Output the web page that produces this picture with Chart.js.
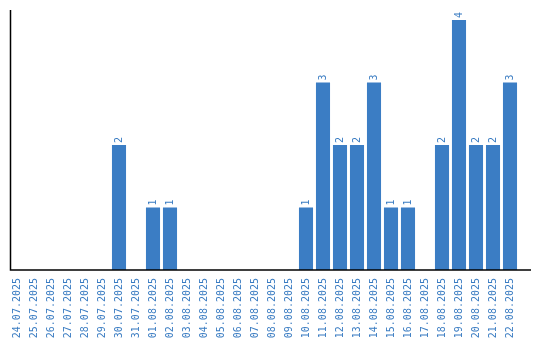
<!DOCTYPE html>
<html>
<head>
<meta charset="utf-8">
<script src="https://cdn.jsdelivr.net/npm/chart.js@4"></script>
<style>
  html, body { margin: 0; padding: 0; background: #fff; }
  #wrap { width: 540px; height: 340px; }
</style>
</head>
<body>
<div id="wrap"><canvas id="chart"></canvas></div>
<script>
// Daily counts, 24.07.2025 - 22.08.2025
const days = [
  '24.07.2025', '25.07.2025', '26.07.2025', '27.07.2025', '28.07.2025', '29.07.2025',
  '30.07.2025', '31.07.2025', '01.08.2025', '02.08.2025', '03.08.2025', '04.08.2025',
  '05.08.2025', '06.08.2025', '07.08.2025', '08.08.2025', '09.08.2025', '10.08.2025',
  '11.08.2025', '12.08.2025', '13.08.2025', '14.08.2025', '15.08.2025', '16.08.2025',
  '17.08.2025', '18.08.2025', '19.08.2025', '20.08.2025', '21.08.2025', '22.08.2025'
];
const counts = [
  0, 0, 0, 0, 0, 0,
  2, 0, 1, 1, 0, 0,
  0, 0, 0, 0, 0, 1,
  3, 2, 2, 3, 1, 1,
  0, 2, 4, 2, 2, 3
];

const blue = '#3b7dc4';
const textBlue = '#3a7cc2';
const monoFont = { family: 'DejaVu Sans Mono', size: 10 };

// axis lines (x axis runs a bit past the last bar like the original)
const axisLines = {
  id: 'axisLines',
  afterDatasetsDraw(chart) {
    const { ctx, chartArea } = chart;
    const x0 = chartArea.left + 2;
    ctx.save();
    ctx.strokeStyle = '#000';
    ctx.lineWidth = 1.5;
    ctx.beginPath();
    ctx.moveTo(x0, chartArea.top);
    ctx.lineTo(x0, chartArea.bottom);
    ctx.lineTo(chartArea.right + 12.5, chartArea.bottom);
    ctx.stroke();
    ctx.restore();
  }
};

// rotated value labels above the bars
const valueLabels = {
  id: 'valueLabels',
  afterDatasetsDraw(chart) {
    const { ctx } = chart;
    const meta = chart.getDatasetMeta(0);
    ctx.save();
    ctx.fillStyle = textBlue;
    ctx.font = monoFont.size + 'px "' + monoFont.family + '"';
    ctx.textAlign = 'left';
    ctx.textBaseline = 'middle';
    meta.data.forEach((bar, i) => {
      const v = counts[i];
      if (!v) return;
      ctx.save();
      ctx.translate(bar.x, bar.y - 2);
      ctx.rotate(-Math.PI / 2);
      ctx.fillText(String(v), 0, 0);
      ctx.restore();
    });
    ctx.restore();
  }
};

new Chart(document.getElementById('chart'), {
  type: 'bar',
  data: {
    labels: days,
    datasets: [{
      data: counts,
      backgroundColor: blue,
      borderWidth: 0,
      barPercentage: 0.9,
      categoryPercentage: 0.92
    }]
  },
  options: {
    responsive: true,
    maintainAspectRatio: false,
    animation: false,
    layout: { padding: { left: 8.5, right: 21.5, top: 10, bottom: 0 } },
    plugins: { legend: { display: false }, tooltip: { enabled: false } },
    scales: {
      x: {
        grid: { display: false },
        border: { display: false },
        afterFit(scale) { scale.height = 70; },
        ticks: {
          color: textBlue,
          font: monoFont,
          minRotation: 90,
          maxRotation: 90,
          autoSkip: false,
          padding: 0
        }
      },
      y: {
        display: false,
        min: 0,
        max: 4.16
      }
    }
  },
  plugins: [axisLines, valueLabels]
});
</script>
</body>
</html>
